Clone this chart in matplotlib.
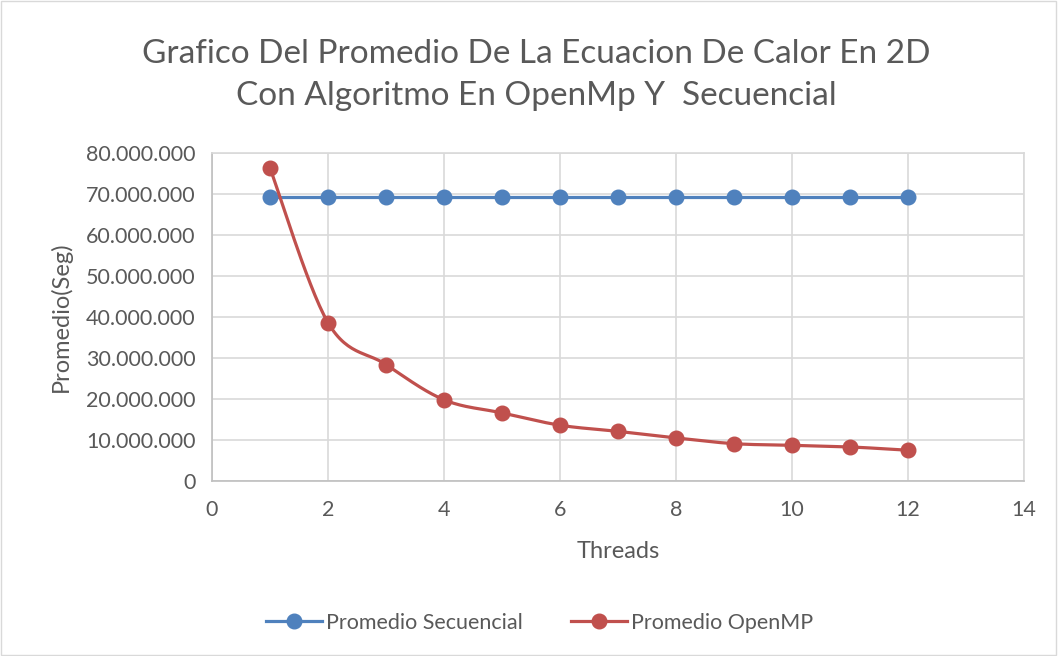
import matplotlib
matplotlib.use('Agg')
import matplotlib.pyplot as plt
from matplotlib.ticker import FuncFormatter
import numpy as np

# datos
threads = [1, 2, 3, 4, 5, 6, 7, 8, 9, 10, 11, 12]
secuencial = [69.3e6] * 12
openmp = [76.3e6, 38.6e6, 28.4e6, 19.8e6, 16.6e6, 13.6e6,
          12.1e6, 10.5e6, 9.1e6, 8.7e6, 8.3e6, 7.5e6]

AZUL = '#4F81BD'
ROJO = '#C0504D'
GRIS = '#595959'

plt.rcParams['font.family'] = ['Lato', 'DejaVu Sans']


def suavizar(x, y, n=30):
    """Curva suavizada tipo Excel (Catmull-Rom) entre los puntos."""
    x = np.asarray(x, float)
    y = np.asarray(y, float)
    px = np.concatenate([[x[0]], x, [x[-1]]])
    py = np.concatenate([[y[0]], y, [y[-1]]])
    xs, ys = [], []
    t = np.linspace(0, 1, n)
    for i in range(1, len(px) - 2):
        p0x, p1x, p2x, p3x = px[i - 1:i + 3]
        p0y, p1y, p2y, p3y = py[i - 1:i + 3]
        c1x = p1x + (p2x - p0x) / 6
        c1y = p1y + (p2y - p0y) / 6
        c2x = p2x - (p3x - p1x) / 6
        c2y = p2y - (p3y - p1y) / 6
        bx = (1 - t) ** 3 * p1x + 3 * (1 - t) ** 2 * t * c1x + 3 * (1 - t) * t ** 2 * c2x + t ** 3 * p2x
        by = (1 - t) ** 3 * p1y + 3 * (1 - t) ** 2 * t * c1y + 3 * (1 - t) * t ** 2 * c2y + t ** 3 * p2y
        xs.extend(bx)
        ys.extend(by)
    return xs, ys


fig = plt.figure(figsize=(10.58, 6.56), dpi=100)
ax = fig.add_axes([0.2004, 0.2668, 0.7675, 0.5000])

ax.plot(threads, secuencial, color=AZUL, lw=2.3, marker='o', ms=10.5,
        label='Promedio Secuencial', zorder=3)
sx, sy = suavizar(threads, openmp)
ax.plot(sx, sy, color=ROJO, lw=2.3, zorder=4)
ax.plot(threads, openmp, color=ROJO, lw=0, marker='o', ms=10.5, zorder=5)
ax.plot([], [], color=ROJO, lw=2.3, marker='o', ms=10.5, label='Promedio OpenMP')

ax.set_xlim(0, 14)
ax.set_ylim(0, 80e6)
ax.set_xticks(range(0, 15, 2))
ax.set_yticks(np.arange(0, 80e6 + 1, 10e6))
ax.yaxis.set_major_formatter(FuncFormatter(lambda v, p: f'{int(v):,}'.replace(',', '.')))

ax.grid(True, color='#D9D9D9', lw=1.2)
ax.set_axisbelow(True)
for s in ax.spines.values():
    s.set_color('#D9D9D9')
    s.set_linewidth(1.2)
ax.spines['bottom'].set_color('#BFBFBF')
ax.spines['left'].set_color('#BFBFBF')
ax.tick_params(length=0, labelsize=15.5, colors=GRIS)
ax.tick_params(axis='x', pad=14)
ax.tick_params(axis='y', pad=12)

ax.set_xlabel('Threads', fontsize=17, color=GRIS, labelpad=15)
ax.set_ylabel('Promedio(Seg)', fontsize=17, color=GRIS, labelpad=10)

fig.text(0.507, 0.885, 'Grafico Del Promedio De La Ecuacion De Calor En 2D\nCon Algoritmo En OpenMp Y  Secuencial',
         ha='center', va='center', fontsize=24, color=GRIS, linespacing=1.5)

fig.legend(loc='center', bbox_to_anchor=(0.51, 0.051), ncol=2, frameon=False,
           fontsize=15.5, labelcolor=GRIS, handlelength=2.6, columnspacing=2.2,
           handletextpad=0.2)

# borde del gráfico
fig.patches.append(plt.Rectangle((0.001, 0.001), 0.997, 0.997, transform=fig.transFigure,
                                 fill=False, edgecolor='#D9D9D9', lw=1))

fig.savefig('out.png', dpi=100)
